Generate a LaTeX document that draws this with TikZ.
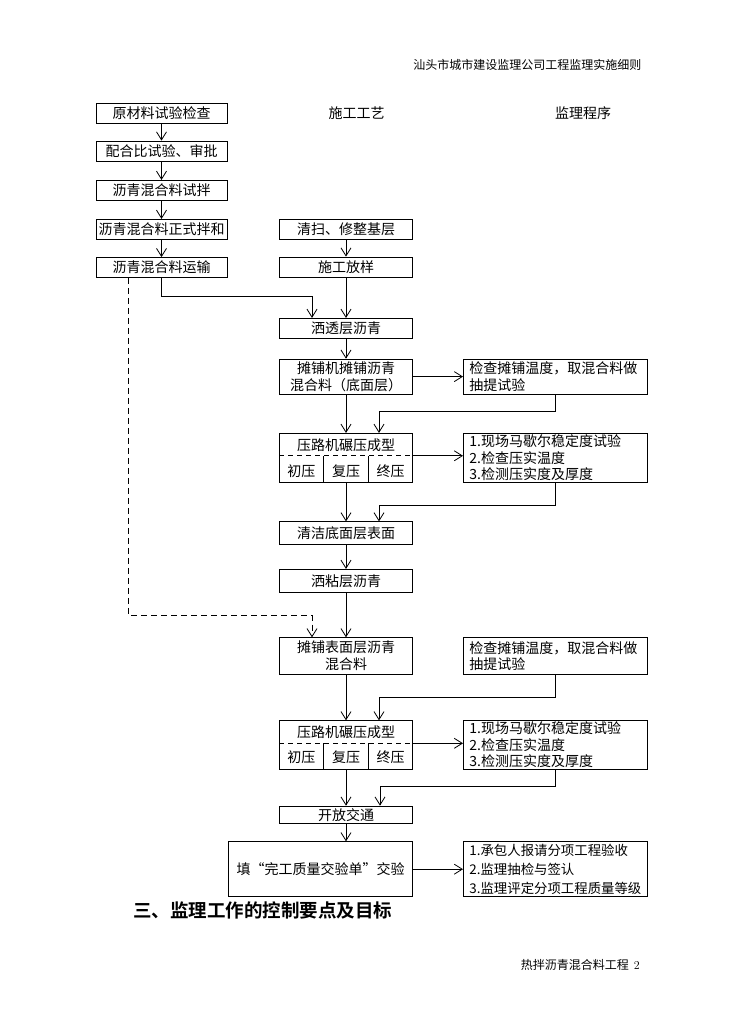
\documentclass[tikz,border=0pt]{standalone}
\usepackage{fontspec}
\newfontfamily\cjk[BoldFont={Noto Sans CJK SC Bold}]{Noto Sans CJK SC}
\usetikzlibrary{arrows.meta}

\begin{document}
\begin{tikzpicture}[x=1pt, y=-1pt, line width=0.8pt,
    box/.style={draw, inner sep=0pt, minimum height=20pt, align=center, font=\cjk\fontsize{14}{17}\selectfont},
    leftbox/.style={box, minimum width=131pt},
    midbox/.style={box, minimum width=133pt},
    notebox/.style={draw, inner xsep=6pt, inner ysep=0pt, text width=172pt, align=left, font=\cjk\fontsize{14}{16.5}\selectfont},
    label/.style={inner sep=0pt, font=\cjk\fontsize{14}{17}\selectfont},
    arr/.style={-{Straight Barb[length=8pt,width=10pt]}},
    cut/.style={dash pattern=on 5pt off 4pt},
    dashline/.style={dash pattern=on 6pt off 4pt}]

    % page frame
    \useasboundingbox[fill=white] (0,0) rectangle (737,1021);

    % header and column titles
    \node[label, font=\cjk\fontsize{12}{14}\selectfont, anchor=east] (header) at (641.7,65) {汕头市城市建设监理公司工程监理实施细则};
    \node[label] (gongyi) at (356.7,113) {施工工艺};
    \node[label] (chengxu) at (583,113) {监理程序};

    % left column: material preparation
    \node[leftbox] (yuancai) at (161.5,113) {原材料试验检查};
    \node[leftbox] (peihe) at (161.5,151) {配合比试验、审批};
    \node[leftbox] (shiban) at (161.5,190.3) {沥青混合料试拌};
    \node[leftbox] (banhe) at (161.5,229.3) {沥青混合料正式拌和};
    \node[leftbox] (yunshu) at (161.5,267.5) {沥青混合料运输};

    % middle column: construction steps
    \node[midbox] (qingsao) at (346,229.2) {清扫、修整基层};
    \node[midbox] (fangyang) at (346,267) {施工放样};
    \node[midbox] (toucen) at (346,328.3) {洒透层沥青};
    \node[midbox, minimum height=35pt] (tanpu1) at (346,376.6) {摊铺机摊铺沥青\\混合料（底面层）};
    \node[midbox, minimum height=49pt] (yanlu1) at (346,457.8) {};
    \node[midbox, minimum height=23pt] (qingjie) at (346,533.3) {清洁底面层表面};
    \node[midbox, minimum height=23pt] (zhanceng) at (346,580.8) {洒粘层沥青};
    \node[midbox, minimum height=36.6pt] (tanpu2) at (346,656) {摊铺表面层沥青\\混合料};
    \node[midbox, minimum height=48.6pt] (yanlu2) at (346,745) {};
    \node[midbox, minimum height=17.3pt] (kaifang) at (346,814.7) {开放交通};
    \node[box, minimum width=184.4pt, minimum height=55pt] (tianbiao) at (320.5,869.2) {填“完工质量交验单”交验};

    % rolling boxes split into three passes
    \coordinate (cut1) at ([yshift=2pt]yanlu1.center);
    \draw[cut] (cut1 -| yanlu1.west) -- (cut1 -| yanlu1.east);
    \node[label] (yanlu1t) at (346,445.7) {压路机碾压成型};
    \node[label] (chuya1) at (301.3,470.7) {初压};
    \node[label] (fuya1) at (346,470.7) {复压};
    \node[label] (zhongya1) at (390.7,470.7) {终压};
    \foreach \dx in {44,89}
        \draw ([xshift=\dx pt]yanlu1.south west) -- ([xshift=\dx pt]yanlu1.south west |- cut1);

    \coordinate (cut2) at ([yshift=1.7pt]yanlu2.center);
    \draw[cut] (cut2 -| yanlu2.west) -- (cut2 -| yanlu2.east);
    \node[label] (yanlu2t) at (346,732.7) {压路机碾压成型};
    \node[label] (chuya2) at (301.3,757.3) {初压};
    \node[label] (fuya2) at (346,757.3) {复压};
    \node[label] (zhongya2) at (390.7,757.3) {终压};
    \foreach \dx in {44,89}
        \draw ([xshift=\dx pt]yanlu2.south west) -- ([xshift=\dx pt]yanlu2.south west |- cut2);

    % right column: supervision checks
    \node[notebox, minimum height=35pt] (jc1) at (555.4,376.6) {检查摊铺温度，取混合料做\\抽提试验};
    \node[notebox, minimum height=49pt] (jc2) at (555.4,457.8) {1.现场马歇尔稳定度试验\\2.检查压实温度\\3.检测压实度及厚度};
    \node[notebox, minimum height=36.6pt] (jc3) at (555.4,656) {检查摊铺温度，取混合料做\\抽提试验};
    \node[notebox, minimum height=48.6pt] (jc4) at (555.4,745) {1.现场马歇尔稳定度试验\\2.检查压实温度\\3.检测压实度及厚度};
    \node[notebox, minimum height=55pt, font=\cjk\fontsize{13.4}{18.7}\selectfont] (jc5) at (555.4,869.2) {1.承包人报请分项工程验收\\2.监理抽检与签认\\3.监理评定分项工程质量等级};

    % straight flow arrows
    \foreach \a/\b in {yuancai/peihe, peihe/shiban, shiban/banhe, banhe/yunshu,
        qingsao/fangyang, fangyang/toucen, toucen/tanpu1, tanpu1/yanlu1, yanlu1/qingjie,
        qingjie/zhanceng, zhanceng/tanpu2, tanpu2/yanlu2, yanlu2/kaifang}
        \draw[arr] (\a.south) -- (\b.north);
    \draw[arr] (kaifang.south) -- (kaifang.south |- tianbiao.north);

    % mix delivered to the two paving steps
    \coordinate (feed1) at (312,296.5);
    \draw[arr] (yunshu.south) |- (feed1) -- (feed1 |- toucen.north);
    \coordinate (feed2) at (312,615.5);
    \draw[arr, dashline] ([xshift=33pt]yunshu.south west) |- (feed2) -- (feed2 |- tanpu2.north);

    % out to the checks
    \draw[arr] (tanpu1.east) -- (jc1.west);
    \draw[arr] (cut1 -| yanlu1.east) -- (cut1 -| jc2.west);
    \draw[arr] (cut2 -| yanlu2.east) -- (cut2 -| jc4.west);
    \draw[arr] (tianbiao.east) -- (jc5.west);

    % back from the checks
    \coordinate (back1) at (379,411.7);
    \draw[arr] (jc1.south) |- (back1) -- (back1 |- yanlu1.north);
    \coordinate (back2) at (379,505.7);
    \draw[arr] (jc2.south) |- (back2) -- (back2 |- qingjie.north);
    \coordinate (back3) at (379,697.3);
    \draw[arr] (jc3.south) |- (back3) -- (back3 |- yanlu2.north);
    \coordinate (back4) at (380,786);
    \draw[arr] (jc4.south) |- (back4) -- (back4 |- kaifang.north);

    % section title and footer
    \node[label, font=\cjk\bfseries\fontsize{18.5}{22}\selectfont, anchor=west] (title) at (133,910) {三、监理工作的控制要点及目标};
    \node[label, font=\cjk\fontsize{12}{14}\selectfont, anchor=west] (footer) at (520.5,965) {热拌沥青混合料工程\hspace{5pt}{\rmfamily 2}};
\end{tikzpicture}
\end{document}
